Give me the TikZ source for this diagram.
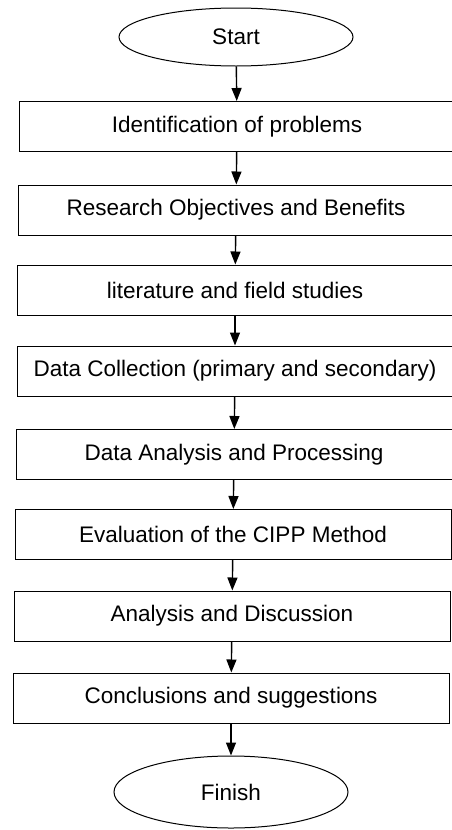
\documentclass[tikz,border=0pt]{standalone}
\usepackage{fontspec}
\setmainfont{Liberation Sans}
\usetikzlibrary{shapes.geometric,arrows.meta}

\tikzset{
  stepbox/.style={draw, line width=1pt, rectangle, minimum width=436pt,
    minimum height=50pt, inner sep=0pt},
  endpoint/.style={draw, line width=1pt, ellipse, minimum width=234pt,
    inner sep=0pt},
}

\begin{document}
\begin{tikzpicture}[x=1pt, y=-1pt, font=\fontsize{22.5}{27}\selectfont]
      \useasboundingbox (0,0) rectangle (451,830);
      \draw
        (236,37) node[endpoint, minimum height=58pt] (0){Start}
        (237,126.5) node[stepbox] (1){Identification of problems}
        (236,210) node[stepbox] (2){Research Objectives and Benefits}
        (235,290) node[stepbox] (3){literature and field studies}
        (235,371) node[stepbox] (4){Data Collection (primary and secondary)}
        (234,454.5) node[stepbox] (5){Data Analysis and Processing}
        (233,534.5) node[stepbox] (6){Evaluation of the CIPP Method}
        (232,616) node[stepbox] (7){Analysis and Discussion}
        (231,698) node[stepbox] (8){Conclusions and suggestions}
        (231,792) node[endpoint, minimum height=72pt] (9){Finish};
      \begin{scope}[line width=1.4pt, -{Triangle[length=13pt,width=10pt]}]
        \draw (0) to (1);
        \draw (1) to (2);
        \draw (2) to (3);
        \draw (3) to (4);
        \draw (4) to (5);
        \draw (5) to (6);
        \draw (6) to (7);
        \draw (7) to (8);
        \draw (8) to (9);
      \end{scope}
    \end{tikzpicture}
\end{document}
